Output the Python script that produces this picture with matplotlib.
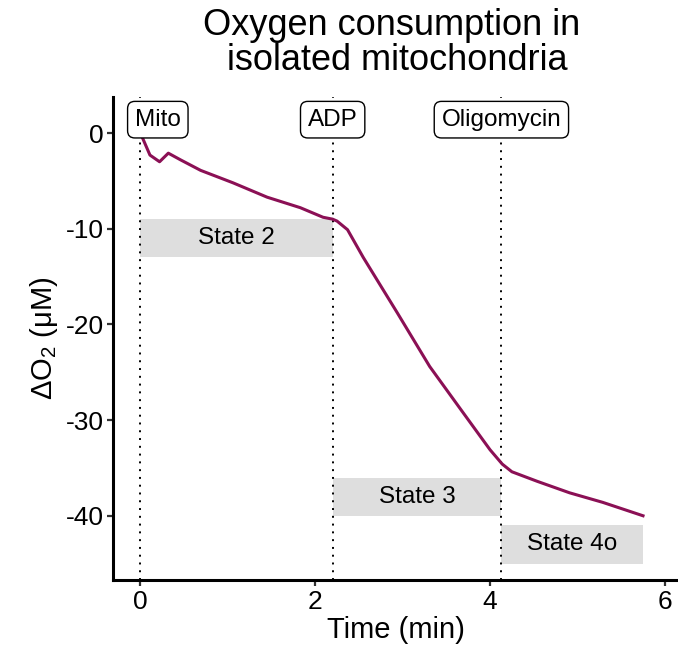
import numpy as np
import matplotlib
matplotlib.use("Agg")
import matplotlib.pyplot as plt

plt.rcParams["font.family"] = ["Liberation Sans", "DejaVu Sans"]

# O2 trace (time in min, delta O2 in uM)
time_min = [0, 0.02, 0.11, 0.22, 0.32, 0.46, 0.69, 1.06, 1.45, 1.83, 2.09, 2.2,
            2.25, 2.37, 2.55, 2.94, 3.31, 3.69, 4.0, 4.14, 4.25, 4.54, 4.91,
            5.29, 5.75]
delta_o2 = [0, -0.4, -2.3, -3.0, -2.1, -2.8, -3.9, -5.2, -6.7, -7.8, -8.8, -9.0,
            -9.2, -10.1, -13.0, -18.8, -24.4, -29.2, -33.1, -34.6, -35.4, -36.4,
            -37.6, -38.6, -40.0]

# additions
event_names = ["Mito", "ADP", "Oligomycin"]
event_times = [0, 2.2, 4.13]
label_shift = [0.2, 0, 0]

# respiratory states: (start, end, ymin, ymax)
state_names = ["State 2", "State 3", "State 4o"]
state_start = [0, 2.2, 4.13]
state_end = [2.2, 4.13, 5.75]
state_ymin = [-13, -40, -45]
state_ymax = [-9, -36, -41]

fig = plt.figure(figsize=(6.78, 6.65), dpi=100)
ax = fig.add_axes([0.167, 0.128, 0.833, 0.726])

for s, e, lo, hi, name in zip(state_start, state_end, state_ymin, state_ymax, state_names):
    ax.fill_between([s, e], lo, hi, color="#dedede", linewidth=0, zorder=1)
    ax.text((s + e) / 2, (lo + hi) / 2, name, ha="center", va="center",
            fontsize=17.5, zorder=4)

for t in event_times:
    ax.axvline(t, color="black", linestyle=(0, (1, 3)), linewidth=1.4, zorder=2)

ax.plot(time_min, delta_o2, color="#8b1055", linewidth=2.2, zorder=3,
        solid_joinstyle="round")

for t, dx, name in zip(event_times, label_shift, event_names):
    ax.text(t + dx, 1.4, name, ha="center", va="center", fontsize=17.5, zorder=5,
            bbox=dict(boxstyle="round,pad=0.3,rounding_size=0.3",
                      facecolor="white", edgecolor="black", linewidth=1.0))

ax.set_xlim(-0.31, 6.15)
ax.set_ylim(-46.7, 3.76)
ax.set_xticks([0, 2, 4, 6])
ax.set_yticks([0, -10, -20, -30, -40])
ax.set_yticklabels(["0", "-10", "-20", "-30", "-40"])
ax.tick_params(axis="both", labelsize=19, colors="#333333", length=4, width=1.6,
               labelcolor="black", pad=3)

for side in ["top", "right"]:
    ax.spines[side].set_visible(False)
for side in ["left", "bottom"]:
    ax.spines[side].set_linewidth(2.2)
    ax.spines[side].set_color("black")

ax.set_xlabel("Time (min)", fontsize=21, labelpad=2)
ax.set_ylabel("ΔO$_\\mathregular{2}$ (μM)", fontsize=21, labelpad=4)

fig.text(0.578, 0.988, "Oxygen consumption in\n isolated mitochondria",
         ha="center", va="top", fontsize=26, linespacing=1.0)

fig.savefig("out.png", dpi=100)
